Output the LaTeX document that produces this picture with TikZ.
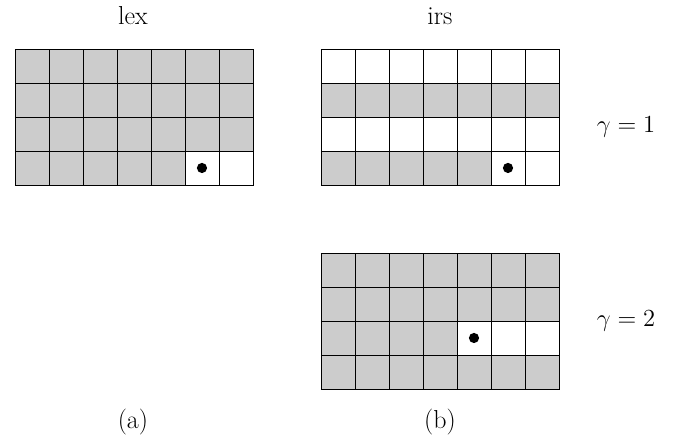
\documentclass[tikz,border=0pt]{standalone}
\usepackage{amsmath}
\usepackage{tikz}
\usetikzlibrary{calc}
\tikzset{shade/.style={fill=gray!40},
  lbl/.style={anchor=base,font=\fontsize{15.2}{18}\selectfont}}

\begin{document}
\begin{tikzpicture}[x=0.7cm,y=0.7cm]
\useasboundingbox (-0.44,-7.59) rectangle (19.5,5.44);

\coordinate (a0) at (0,0);
\coordinate (b0) at (9,0);
\coordinate (c0) at (9,-6);

% lex
\fill [shade] (a0) ++(0,1) rectangle ++(7,3);
\fill [shade] (a0) rectangle ++(5,1);
\draw [step=0.7cm] (a0) grid ++(7,4);
\draw (a0) rectangle ++(7,4);
\fill ($(a0)+(5.5,0.5)$) circle(0.15);

% irs, gamma = 1
\foreach \r in {0,2} {
\fill [shade] (b0) ++(0,\r) rectangle ++(7,1);
}
\fill [white] (b0) ++(5,0) rectangle ++(2,1);
\draw [step=0.7cm] (b0) grid ++(7,4);
\draw (b0) rectangle ++(7,4);
\fill ($(b0)+(5.5,0.5)$) circle(0.15);

% irs, gamma = 2
\fill [shade] (c0) rectangle ++(7,4);
\fill [white] (c0) ++(4,1) rectangle ++(3,1);
\draw [step=0.7cm] (c0) grid ++(7,4);
\draw (c0) rectangle ++(7,4);
\fill ($(c0)+(4.5,1.5)$) circle(0.15);

\node [lbl] (lex) at (3.47,4.73) {lex};
\node [lbl] (irs) at (12.5,4.73) {irs};
\node [lbl] (g1) at (17.97,1.55) {$\gamma = 1$};
\node [lbl] (g2) at (17.97,-4.15) {$\gamma = 2$};
\node [lbl] (la) at (3.47,-7.17) {(a)};
\node [lbl] (lb) at (12.5,-7.17) {(b)};

\end{tikzpicture}
\end{document}
